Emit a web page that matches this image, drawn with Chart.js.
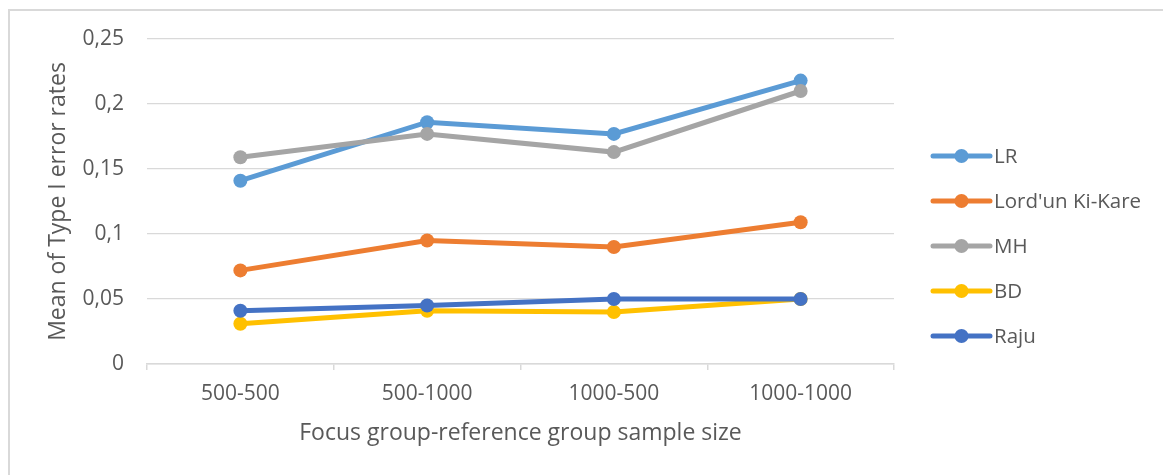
<!DOCTYPE html>
<html>
<head>
<meta charset="utf-8">
<title>Mean of Type I error rates</title>
<script src="https://cdn.jsdelivr.net/npm/chart.js@4.4.1/dist/chart.umd.min.js"></script>
<style>
    html, body { margin: 0; padding: 0; background: #fff; overflow: hidden; }
    #wrap { position: relative; width: 1163px; height: 475px; }
    #frame { position: absolute; left: 8px; top: 9px; width: 1200px; height: 500px; border: 2px solid #d9d9d9; }
    #grafico { position: absolute; left: 0; top: 0; }
</style>
</head>
<body>
<div id="wrap">
    <div id="frame"></div>
    <canvas id="grafico" width="1163" height="475"></canvas>
</div>
<script>
// -------- Dados ---------------------------------------------------------------
const categorias = ["500-500", "500-1000", "1000-500", "1000-1000"];
const valoresLR = [0.141, 0.186, 0.177, 0.218];
const valoresLord = [0.072, 0.095, 0.090, 0.109];
const valoresMH = [0.159, 0.177, 0.163, 0.210];
const valoresBD = [0.031, 0.041, 0.040, 0.050];
const valoresRaju = [0.041, 0.045, 0.050, 0.050];
const ticksY = [0, 0.05, 0.1, 0.15, 0.2, 0.25];

const series = [
    { label: "LR", data: valoresLR, cor: "#5b9bd5" },
    { label: "Lord'un Ki-Kare", data: valoresLord, cor: "#ed7d31" },
    { label: "MH", data: valoresMH, cor: "#a5a5a5" },
    { label: "BD", data: valoresBD, cor: "#ffc000" },
    { label: "Raju", data: valoresRaju, cor: "#4472c4" }
];

const fonte = "'Open Sans', 'Liberation Sans', sans-serif";
const corTexto = "#595959";
const corGrade = "#d9d9d9";

// -------- Legenda no estilo do Excel (linha + marcador) -------------------------
const legendaExcel = {
    id: "legendaExcel",
    afterDraw(chart) {
        const ctx = chart.ctx;
        const area = chart.chartArea;
        const x0 = area.right + 39;
        ctx.save();
        ctx.font = "20.5px " + fonte;
        ctx.textBaseline = "middle";
        ctx.textAlign = "left";
        chart.data.datasets.forEach((ds, i) => {
            const y = 156 + i * 45;
            ctx.strokeStyle = ds.borderColor;
            ctx.lineWidth = 5;
            ctx.lineCap = "round";
            ctx.beginPath();
            ctx.moveTo(x0, y);
            ctx.lineTo(x0 + 57, y);
            ctx.stroke();
            ctx.fillStyle = ds.borderColor;
            ctx.beginPath();
            ctx.arc(x0 + 28.5, y, 7, 0, Math.PI * 2);
            ctx.fill();
            ctx.fillStyle = corTexto;
            ctx.fillText(ds.label, x0 + 61, y + 1);
        });
        ctx.restore();
    }
};

const ctxGrafico = document.getElementById("grafico").getContext("2d");
new Chart(ctxGrafico, {
    type: "line",
    data: {
        labels: categorias,
        datasets: series.map((s, i) => ({
            label: s.label,
            data: s.data,
            borderColor: s.cor,
            backgroundColor: s.cor,
            pointBackgroundColor: s.cor,
            pointBorderColor: s.cor,
            borderWidth: 5,
            pointRadius: 7,
            pointBorderWidth: 0,
            fill: false,
            tension: 0,
            order: series.length - i
        }))
    },
    options: {
        responsive: false,
        animation: false,
        layout: { padding: { left: 10, top: 39, right: 269, bottom: 0 } },
        plugins: {
            legend: { display: false },
            tooltip: { enabled: false }
        },
        scales: {
            x: {
                offset: true,
                grid: {
                    offset: true,
                    drawOnChartArea: false,
                    drawTicks: true,
                    tickLength: 6,
                    color: corGrade,
                    lineWidth: 1.5
                },
                border: { display: true, color: corGrade, width: 1.5 },
                ticks: {
                    color: corTexto,
                    font: { family: fonte, size: 21 },
                    padding: 11,
                    maxRotation: 0
                },
                title: {
                    display: true,
                    text: "Focus group-reference group sample size",
                    color: corTexto,
                    font: { family: fonte, size: 23 },
                    padding: { top: 0, bottom: 28 }
                },
                afterFit: (escala) => { escala.height = 111; }
            },
            y: {
                min: 0,
                max: 0.25,
                afterBuildTicks: (escala) => { escala.ticks = ticksY.map(v => ({ value: v })); },
                grid: { color: corGrade, lineWidth: 1.2, drawTicks: false },
                border: { display: false },
                ticks: {
                    color: corTexto,
                    font: { family: fonte, size: 21 },
                    padding: 23,
                    callback: (v) => String(Number(v.toFixed(2))).replace(".", ",")
                },
                title: {
                    display: true,
                    text: "Mean of Type I error rates",
                    color: corTexto,
                    font: { family: fonte, size: 23 },
                    padding: { top: 35, bottom: 0 }
                },
                afterFit: (escala) => { escala.width = 137; }
            }
        }
    },
    plugins: [legendaExcel]
});
</script>
</body>
</html>
